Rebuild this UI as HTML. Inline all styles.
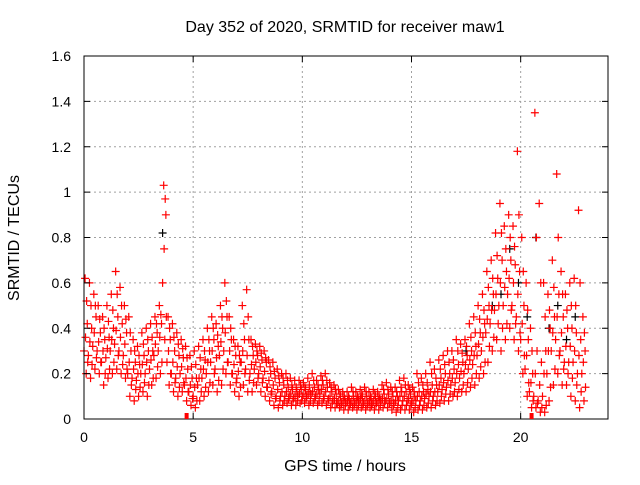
<!DOCTYPE html>
<html><head><meta charset="utf-8"><style>
body{margin:0;background:#fff}
svg text{font-family:"Liberation Sans",sans-serif;font-size:14px;fill:#000}
svg text.big{font-size:16px}
</style></head><body>
<svg id="chart" width="640" height="480">
<text class="big" x="345" y="32" text-anchor="middle">Day 352 of 2020, SRMTID for receiver maw1</text>
<text class="big" transform="translate(19,238) rotate(-90)" text-anchor="middle">SRMTID / TECUs</text>
<text class="big" x="345" y="471" text-anchor="middle">GPS time / hours</text>
<g id="grid"></g><g id="marks"></g><g id="axes"></g>
</svg>
<script>
const xTicks=[0,5,10,15,20];
const yTicks=[0,0.2,0.4,0.6,0.8,1,1.2,1.4,1.6];
const binStart=0, binWidth=0.2;
const lowVals=[.2,.18,.22,.2,.15,.18,.2,.22,.2,.18,.1,.08,.1,.12,.1,.15,.18,.2,.35,.15,.12,.1,.12,.08,.06,.05,.08,.1,.12,.15,.12,.15,.2,.15,.12,.1,.15,.12,.12,.15,.12,.1,.08,.06,.05,.06,.07,.06,.06,.07,.07,.06,.07,.06,.07,.06,.05,.05,.05,.04,.04,.05,.04,.05,.04,.05,.04,.04,.05,.05,.04,.03,.04,.04,.04,.03,.04,.04,.05,.05,.06,.07,.08,.08,.1,.1,.12,.12,.14,.15,.18,.2,.25,.3,.35,.3,.35,.4,.35,.3,.2,.1,.05,.05,.03,.03,.08,.15,.2,.15,.15,.1,.08,.05,.08];
const lowMidVals=[.25,.24,.27,.25,.2,.22,.25,.28,.24,.22,.15,.13,.14,.16,.15,.18,.23,.25,.45,.2,.16,.14,.16,.12,.09,.08,.12,.14,.16,.2,.17,.22,.25,.2,.16,.14,.2,.17,.16,.18,.16,.14,.11,.09,.08,.08,.09,.08,.08,.08,.09,.08,.09,.08,.09,.08,.07,.07,.06,.06,.06,.06,.06,.06,.06,.06,.06,.06,.07,.07,.06,.05,.06,.06,.06,.05,.06,.06,.07,.08,.08,.1,.11,.11,.12,.13,.15,.16,.18,.2,.23,.25,.32,.36,.42,.4,.42,.48,.42,.38,.28,.16,.08,.07,.05,.06,.14,.22,.28,.22,.2,.18,.15,.12,.14];
const midLowVals=[.3,.28,.32,.3,.25,.27,.3,.33,.3,.28,.2,.18,.17,.2,.2,.22,.28,.3,.6,.25,.2,.18,.2,.15,.12,.1,.15,.18,.2,.25,.22,.28,.3,.25,.2,.18,.25,.22,.2,.22,.2,.18,.14,.12,.1,.1,.1,.1,.09,.1,.1,.1,.11,.1,.11,.1,.09,.08,.07,.07,.07,.07,.07,.08,.07,.07,.07,.07,.08,.08,.07,.07,.08,.08,.08,.07,.08,.08,.09,.1,.1,.12,.13,.14,.15,.16,.18,.2,.22,.24,.28,.3,.38,.42,.48,.5,.5,.55,.5,.45,.35,.22,.12,.1,.08,.1,.2,.3,.35,.3,.25,.25,.25,.2,.2];
const midVals=[.36,.34,.38,.34,.3,.31,.35,.39,.36,.33,.25,.22,.2,.24,.25,.26,.33,.36,.75,.3,.25,.23,.23,.18,.15,.14,.18,.22,.25,.3,.27,.34,.38,.3,.24,.21,.3,.28,.24,.25,.23,.21,.17,.15,.13,.12,.12,.11,.1,.11,.11,.11,.12,.11,.13,.12,.1,.09,.08,.08,.08,.08,.08,.09,.08,.08,.08,.08,.09,.09,.08,.08,.1,.1,.09,.08,.1,.1,.11,.12,.12,.15,.16,.17,.18,.2,.21,.24,.26,.28,.33,.36,.44,.48,.55,.6,.58,.62,.6,.55,.42,.28,.16,.2,.15,.2,.3,.38,.45,.38,.32,.32,.3,.28,.25];
const midHighVals=[.42,.4,.45,.38,.35,.36,.4,.45,.42,.38,.3,.25,.24,.28,.3,.3,.38,.42,.9,.35,.3,.28,.27,.22,.18,.18,.22,.26,.3,.35,.32,.4,.45,.35,.28,.25,.35,.35,.28,.28,.26,.25,.2,.18,.16,.15,.14,.13,.12,.13,.13,.12,.14,.13,.15,.14,.12,.11,.1,.09,.09,.1,.09,.1,.1,.09,.1,.09,.11,.11,.1,.1,.12,.12,.11,.1,.12,.12,.13,.15,.15,.18,.2,.2,.22,.24,.25,.28,.3,.32,.38,.42,.5,.55,.62,.7,.65,.7,.68,.65,.5,.35,.2,.3,.25,.3,.4,.45,.55,.45,.4,.4,.38,.35,.3];
const highMidVals=[.52,.5,.5,.44,.4,.43,.48,.55,.5,.44,.38,.3,.28,.33,.35,.36,.42,.46,.97,.4,.36,.33,.31,.27,.23,.24,.27,.3,.35,.4,.37,.45,.52,.4,.32,.28,.42,.45,.32,.3,.29,.27,.23,.21,.19,.18,.17,.15,.14,.15,.14,.15,.17,.15,.17,.17,.14,.13,.11,.1,.1,.12,.1,.11,.12,.1,.11,.1,.13,.13,.12,.12,.14,.15,.13,.12,.16,.15,.16,.2,.18,.22,.24,.25,.26,.3,.29,.32,.36,.38,.44,.48,.58,.62,.72,.82,.75,.8,.76,.9,.65,.48,.3,.8,.6,.45,.48,.58,.8,.55,.48,.5,.5,.6,.38];
const highVals=[.62,.6,.55,.5,.45,.5,.55,.65,.58,.5,.45,.35,.32,.38,.4,.42,.45,.5,1.03,.45,.42,.38,.35,.32,.28,.3,.32,.35,.4,.45,.42,.5,.6,.45,.35,.32,.5,.57,.35,.33,.32,.3,.26,.25,.22,.2,.2,.18,.17,.17,.16,.18,.2,.17,.19,.2,.16,.15,.13,.12,.12,.14,.12,.13,.14,.12,.13,.12,.15,.16,.14,.14,.17,.18,.15,.14,.2,.18,.2,.25,.22,.26,.28,.3,.3,.35,.33,.35,.42,.45,.5,.55,.65,.7,.82,.95,.85,.9,.85,1.18,.8,.6,.4,1.35,.95,.6,.55,.7,1.08,.65,.55,.6,.62,.92,.45];
const blackTimes=[19.1,19.5,19.9,20.3,20.7,21.3,21.7,22.1,22.5,18.7,3.6,17.5];
const blackVals=[.55,.75,.6,.45,.8,.4,.5,.35,.45,.5,.82,.3];
const markerTimes=[4.7,20.5];

const L=84,R=608,T=56,B=419,xMax=24,yMax=1.6;
const xs=v=>L+v/xMax*(R-L), ys=v=>B-v/yMax*(B-T);
const NS="http://www.w3.org/2000/svg";
function mk(tag,attrs,parent){const e=document.createElementNS(NS,tag);for(const k in attrs)e.setAttribute(k,attrs[k]);parent.appendChild(e);return e;}
const grid=document.getElementById('grid'),marks=document.getElementById('marks'),axes=document.getElementById('axes');
xTicks.forEach(t=>{
 if(t>0){const g=mk('line',{x1:xs(t),x2:xs(t),y1:T,y2:B,stroke:'#a0a0a0','stroke-dasharray':'2,3'},grid);
 
 }
 const tk=mk('path',{d:`M${xs(t)},${B}v-6M${xs(t)},${T}v6`,stroke:'#000'},axes);
 
 
 const lb=mk('text',{x:xs(t),y:B+23,'text-anchor':'middle'},axes);lb.textContent=t;
 
 
});
yTicks.forEach(t=>{
 if(t>0&&t<yMax){const g=mk('line',{x1:L,x2:R,y1:ys(t),y2:ys(t),stroke:'#a0a0a0','stroke-dasharray':'2,3'},grid);
 
 }
 const tk=mk('path',{d:`M${L},${ys(t)}h6M${R},${ys(t)}h-6`,stroke:'#000'},axes);
 
 
 const lb=mk('text',{x:L-13,y:ys(t)+5,'text-anchor':'end'},axes);lb.textContent=String(Math.round(t*10)/10);
 
 
});
const frame=mk('rect',{x:L,y:T,width:R-L,height:B-T,fill:'none',stroke:'#000'},axes);


function cross(t,v,color,name){
 const x=xs(t),y=ys(v);
 const p=mk('path',{d:`M${x-4},${y}h8M${x},${y-4}v8`,stroke:color,'stroke-width':1.2},marks);
 
 
}
blackTimes.forEach((t,i)=>cross(t,blackVals[i],'#000','black-point'));
const series=[[lowVals,0.1],[lowMidVals,0.17],[midLowVals,0],[midVals,0.07],[midHighVals,0.15],[highMidVals,0.12],[highVals,0.05]];
series.forEach(([arr,off])=>arr.forEach((v,i)=>cross(binStart+i*binWidth+off,v,'#f00','srmtid-point')));
markerTimes.forEach(t=>{
 const r=mk('rect',{x:xs(t)-2,y:B-6,width:4,height:6,fill:'#f00'},axes);
 
 
});
</script>
</body></html>
